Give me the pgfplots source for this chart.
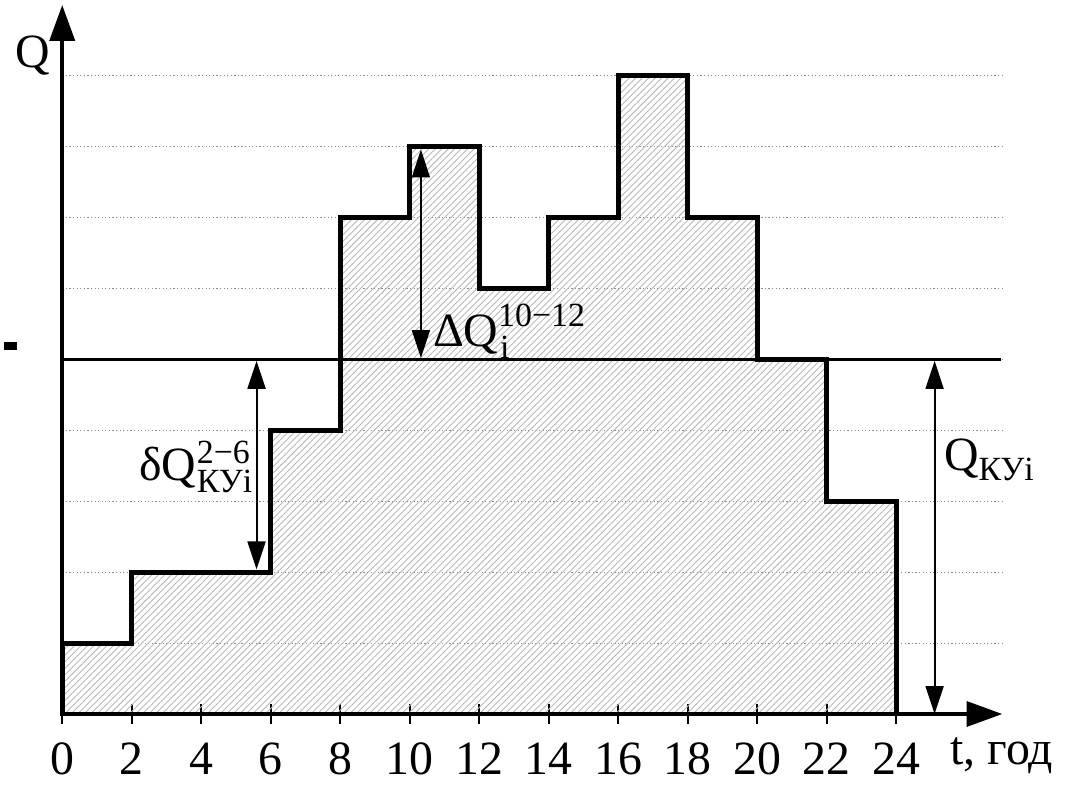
\documentclass[border=0pt]{standalone}
\usepackage{fontspec}
\setmainfont{Liberation Serif}
\usepackage{pgfplots}
\pgfplotsset{compat=1.18}
\usetikzlibrary{patterns.meta,arrows.meta}
\newcommand\bigf{\fontsize{24}{28}\selectfont}
\newcommand\smf{\fontsize{17}{19}\selectfont}
\begin{document}
\bigf
\begin{tikzpicture}[font=\bigf]
\begin{axis}[
  x=17.45pt, y=35.6pt,
  xmin=0, xmax=27.05, ymin=0, ymax=10,
  axis x line=bottom, axis y line=left,
  axis line style={line width=2pt, -{Triangle[length=18pt,width=12.5pt]}},
  xtick={0,2,...,24},
  ytick={1,2,...,9}, yticklabels={},
  ymajorgrids,
  grid style={black!45, line width=0.6pt, dash pattern=on 0.6pt off 1.2pt},
  tick align=center, major tick length=10pt,
  xtick style={line width=1pt, black},
  ytick style={draw=none},
  /pgf/number format/assume math mode=true,
  xticklabel style={font=\bigf, anchor=base, inner sep=0pt, yshift=-25.5pt},
  xticklabel shift=0pt,
  typeset ticklabels with strut,
  clip=false,
]
\addplot[const plot, line width=2.5pt, line join=miter, draw=black,
  pattern={Lines[angle=45, distance=2.3pt, line width=0.45pt]}, pattern color=black!28]
  coordinates {(0,1) (2,2) (6,4) (8,7) (10,8) (12,6) (14,7) (16,9) (18,7) (20,5) (22,3) (24,3)} \closedcycle;
\draw[line width=1.4pt] (axis cs:0,5) -- (axis cs:27,5);
% arrows
\draw[line width=1pt, {Triangle[length=14pt,width=9pt]}-{Triangle[length=14pt,width=9pt]}] (axis cs:10.32,5.02) -- (axis cs:10.32,7.96);
\draw[line width=1pt, {Triangle[length=14pt,width=9pt]}-{Triangle[length=14pt,width=9pt]}] (axis cs:5.59,4.98) -- (axis cs:5.59,2.04);
\draw[line width=1pt, {Triangle[length=14pt,width=9pt]}-{Triangle[length=14pt,width=9pt]}] (axis cs:25.1,4.98) -- (axis cs:25.1,0.0);
% stray mark
\draw[line width=4.5pt] (axis cs:-1.662,5.19) -- (axis cs:-1.29,5.19);
% labels
\node[anchor=base west, inner sep=0pt] (dQ) at (axis cs:10.66,5.18) {ΔQ};
\node[anchor=base west, inner sep=0pt] at ([xshift=-0.5pt,yshift=10pt]dQ.base east) {\fontsize{17}{18}\selectfont 10−12};
\node[anchor=base west, inner sep=0pt] at ([xshift=0.5pt,yshift=-6pt]dQ.base east) {\fontsize{17}{18}\selectfont i};
\node[anchor=base west, inner sep=0pt] (dq) at (axis cs:2.2,3.30) {δQ};
\node[anchor=base west, inner sep=0pt] at ([yshift=8.5pt]dq.base east) {\smf 2−6};
\node[anchor=base west, inner sep=0pt] at ([yshift=-6.5pt]dq.base east) {\smf КУi};
\node[anchor=base west, inner sep=0pt] at (axis cs:25.36,3.43)
  {Q\raisebox{-5pt}{\smf КУi}};
\node[anchor=base, inner sep=0pt] at (axis cs:-0.86,9.115) {Q};
\node[anchor=base west, inner sep=0pt] at (axis cs:25.55,-0.716) {t, год};
% bounding box
\path (axis cs:-1.662,-0.843) rectangle (axis cs:28.91,10.07);
\end{axis}
\end{tikzpicture}
\end{document}
